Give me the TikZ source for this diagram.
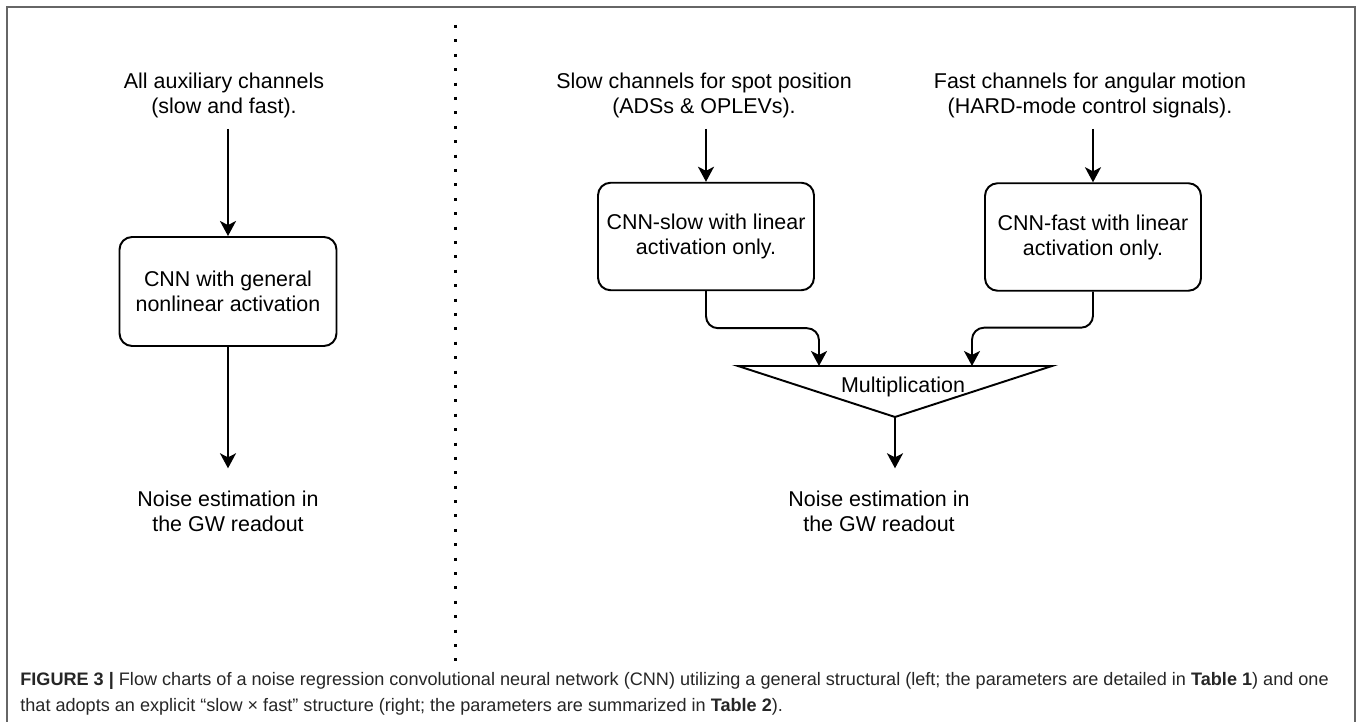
\documentclass[tikz,border=0pt]{standalone}
\usepackage{fontspec}
\setmainfont{Liberation Sans}
\usetikzlibrary{arrows.meta,positioning}

\tikzset{
  lbl/.style={align=center, inner sep=0pt, font=\fontsize{12.2}{14.2}\selectfont},
  cnnbox/.style={draw, line width=1.1pt, rounded corners=0.25cm, align=center,
    minimum width=4.32cm, minimum height=2.15cm, font=\fontsize{12.2}{14.2}\selectfont},
  arr/.style={-{Stealth[length=0.3cm,width=0.32cm,inset=0.08cm]}, line width=1.1pt},
  capline/.style={anchor=base west, inner sep=0pt, text=black!85, font=\fontsize{10.3}{12}\selectfont},
}

\begin{document}
\begin{tikzpicture}[x=0.02cm,y=-0.02cm]
\useasboundingbox (0,0) rectangle (1357,722);

% frame and separator
\draw[black!60, line width=0.03cm] (7,722) -- (7,7) -- (1355,7) -- (1355,722);
\draw[line width=0.06cm, dash pattern=on 0.06cm off 0.228cm] (455,25) -- (455,662);

% left: general CNN
\node[lbl] (allin) at (224,95) {All auxiliary channels\\(slow and fast).};
\node[cnnbox, minimum width=4.34cm, minimum height=2.18cm] (cnn) at (228,291.5) {CNN with general\\nonlinear activation};
\node[lbl] (outL) at (228,511) {Noise estimation in\\the GW readout};
\draw[arr, shorten <=0.22cm] (allin.south -| cnn.north) -- (cnn.north);
\draw[arr, shorten >=0.44cm] (cnn.south) -- (outL.north -| cnn.south);

% right: slow x fast
\node[lbl] (slowin) at (704,95) {Slow channels for spot position\\(ADSs \& OPLEVs).};
\node[lbl] (fastin) at (1090,95) {Fast channels for angular motion\\(HARD-mode control signals).};
\node[cnnbox] (slow) at (706,236.5) {CNN-slow with linear\\activation only.};
\node[cnnbox] (fast) at (1093,237) {CNN-fast with linear\\activation only.};
\draw[arr, shorten <=0.22cm] (slowin.south -| slow.north) -- (slow.north);
\draw[arr, shorten <=0.22cm] (fastin.south -| fast.north) -- (fast.north);

% multiplication
\coordinate (mulL) at (738,366);
\coordinate (mulR) at (1052,366);
\coordinate (mulA) at (895,417);
\coordinate (inS) at (819,366);
\coordinate (inF) at (972,366);
\draw[line width=1.1pt] (mulL) -- (mulR) -- (mulA) -- cycle;
\node[lbl, anchor=base] (multxt) at (903,393) {Multiplication};
\draw[arr, rounded corners=0.24cm] (slow.south) -- ++(0,37) -| (inS);
\draw[arr, rounded corners=0.24cm] (fast.south) -- ++(0,36) -| (inF);
\node[lbl] (outR) at (879,511) {Noise estimation in\\the GW readout};
\draw[arr, shorten >=0.44cm] (mulA) -- (outR.north -| mulA);

% caption
\node[capline] (cap1) at (20,686) {\textbf{FIGURE 3 |} Flow charts of a noise regression convolutional neural network (CNN) utilizing a general structural (left; the parameters are detailed in \textbf{Table 1}) and one};
\node[capline] (cap2) at (20,712) {that adopts an explicit “slow × fast” structure (right; the parameters are summarized in \textbf{Table 2}).};
\end{tikzpicture}
\end{document}
